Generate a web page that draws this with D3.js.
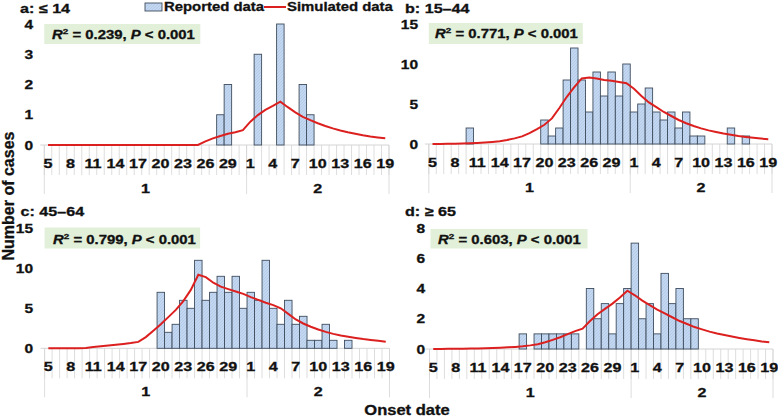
<!DOCTYPE html>
<html>
<head>
<meta charset="utf-8">
<script src="https://cdn.jsdelivr.net/npm/d3@7"></script>
<style>
  html, body { margin: 0; padding: 0; background: #fff; }
  svg { display: block; font-family: "Liberation Sans", Arial, sans-serif; font-weight: bold; }
  svg text { stroke: #111; stroke-width: 0.3px; }
</style>
</head>
<body>
<svg id="chart" width="778" height="417"></svg>
<script>
// ---- Data ----
const janDays = [5,6,7,8,9,10,11,12,13,14,15,16,17,18,19,20,21,22,23,24,25,26,27,28,29,30,31];
const febDays = [1,2,3,4,5,6,7,8,9,10,11,12,13,14,15,16,17,18,19];
const tickDays = ["1-5","1-8","1-11","1-14","1-17","1-20","1-23","1-26","1-29","2-1","2-4","2-7","2-10","2-13","2-16","2-19"];
const monthLabels = ["1", "2"];

const panelTitles = ["a: \u2264 14", "b: 15\u201344", "c: 45\u201364", "d: \u2265 65"];
const r2Values = ["0.239", "0.771", "0.799", "0.603"];
const pTexts = ["< 0.001", "< 0.001", "< 0.001", "< 0.001"];
const yMax = [4, 15, 15, 8];
const yTicks = [[0,1,2,3,4],[0,5,10,15],[0,5,10,15],[0,2,4,6,8]];

// Reported data (Jan 5 ... Feb 19)
const reportedA = [0,0,0,0,0,0,0,0,0,0,0,0,0,0,0,0,0,0,0,0,0,0,0,1,2,0,0,0,3,0,0,4,0,0,2,1,0,0,0,0,0,0,0,0,0,0];
const reportedB = [0,0,0,0,0,2,0,0,0,0,0,0,0,0,0,3,1,2,8,12,8,4,9,6,9,6,10,4,5,7,4,3,4,2,4,1,1,0,0,0,2,0,1,0,0,0];
const reportedC = [0,0,0,0,0,0,0,0,0,0,0,0,0,0,0,7,2,3,6,5,11,6,7,9,7,9,5,7,6,11,5,3,6,3,4,1,1,3,1,0,1,0,0,0,0,0];
const reportedD = [0,0,0,0,0,0,0,0,0,0,0,0,1,0,1,1,1,1,1,1,0,4,2,3,1,3,4,7,2,3,1,5,3,4,2,2,0,0,0,0,0,0,0,0,0,0];

// Simulated data
const simulatedA = [0,0,0,0,0,0,0,0,0,0,0,0,0,0,0,0,0,0,0,0,0,0.12,0.22,0.3,0.37,0.42,0.49,0.77,0.99,1.16,1.29,1.43,1.25,1.08,0.93,0.82,0.72,0.63,0.55,0.48,0.42,0.37,0.32,0.28,0.25,0.22];
const simulatedB = [0,0.01,0.02,0.04,0.06,0.08,0.12,0.18,0.26,0.35,0.5,0.7,0.95,1.35,1.85,2.4,3.2,4.5,5.9,7.1,8.2,8.3,8.2,8.0,7.9,7.75,7.6,6.9,6.0,5.2,4.6,4.0,3.5,3.0,2.6,2.25,1.95,1.7,1.5,1.3,1.15,1.0,0.88,0.77,0.68,0.6];
const simulatedC = [0,0,0,0,0,0.05,0.15,0.25,0.35,0.45,0.55,0.65,0.8,1.4,2.2,3.0,3.9,4.8,5.9,7.3,9.2,8.9,8.2,7.7,7.4,7.1,6.8,6.4,6.05,5.7,5.4,5.0,4.3,3.6,3.1,2.7,2.35,2.05,1.8,1.6,1.45,1.3,1.15,1.05,0.93,0.83];
const simulatedD = [0,0.005,0.01,0.015,0.02,0.03,0.04,0.05,0.07,0.09,0.11,0.14,0.18,0.24,0.32,0.45,0.6,0.78,0.98,1.18,1.35,1.85,2.3,2.65,3.0,3.4,3.85,3.55,3.2,2.9,2.6,2.35,2.1,1.85,1.65,1.45,1.3,1.15,1.02,0.92,0.82,0.73,0.65,0.58,0.5,0.44];

const reportedAll = [reportedA, reportedB, reportedC, reportedD];
const simulatedAll = [simulatedA, simulatedB, simulatedC, simulatedD];

// ---- Layout ----
const categories = janDays.map(d => "1-" + d).concat(febDays.map(d => "2-" + d));
const panels = [
  { left: 44.3, right: 389.0, y0: 145.0, yTop: 24.0, titleX: 20, titleY: 13, tickRight: 33, box: [44.3, 24, 156, 20], textX: 52, textY: 39 },
  { left: 428.8, right: 772.0, y0: 144.0, yTop: 24.0, titleX: 405, titleY: 13, tickRight: 418, box: [428.8, 23, 154, 21], textX: 435, textY: 38 },
  { left: 44.6, right: 389.5, y0: 348.3, yTop: 228.3, titleX: 20.5, titleY: 216, tickRight: 33, box: [44.6, 227.5, 155.5, 21], textX: 53, textY: 243.5 },
  { left: 429.5, right: 773.0, y0: 349.0, yTop: 228.0, titleX: 405, titleY: 216, tickRight: 425, box: [430.5, 229, 157, 19.5], textX: 438, textY: 243.5 }
];

const STRETCH = 1.24;
function stretch(sel, factor) {
  sel.each(function () {
    const len = this.getComputedTextLength();
    d3.select(this).attr("textLength", len * factor).attr("lengthAdjust", "spacingAndGlyphs");
  });
}

const svg = d3.select("#chart");
const defs = svg.append("defs");
const pat = defs.append("pattern").attr("id", "hatch").attr("patternUnits", "userSpaceOnUse")
  .attr("width", 3).attr("height", 3);
pat.append("rect").attr("width", 3).attr("height", 3).attr("fill", "#c3d8f0");
pat.append("path").attr("d", "M0,3 L3,0 M-1,1 L1,-1 M2,4 L4,2").attr("stroke", "#a9c4e6").attr("stroke-width", 0.6);

const barStroke = "#3f4d5e";
const redColor = "#dc1f1f";
const gridColor = "#d4d4d4";
const textColor = "#111";

panels.forEach((p, k) => {
  const g = svg.append("g");
  const x = d3.scaleBand().domain(categories).range([p.left, p.right]).padding(0);
  const y = d3.scaleLinear().domain([0, yMax[k]]).range([p.y0, p.yTop]);
  const bw = x.bandwidth();

  // R2 box
  g.append("rect").attr("x", p.box[0]).attr("y", p.box[1]).attr("width", p.box[2]).attr("height", p.box[3])
    .attr("fill", "#e2efd9");
  const t = g.append("text").attr("x", p.textX).attr("y", p.textY).attr("font-size", 12).attr("fill", textColor);
  t.append("tspan").attr("font-style", "italic").text("R");
  t.append("tspan").attr("font-size", 8).attr("dy", -5).text("2");
  t.append("tspan").attr("dy", 5).text(" = " + r2Values[k] + ", ");
  t.append("tspan").attr("font-style", "italic").text("P");
  t.append("tspan").text(" " + pTexts[k]);
  stretch(t, STRETCH);

  // category boundary ticks
  const bounds = categories.map(c => x(c)).concat([p.right]);
  g.selectAll(".tk").data(bounds).enter().append("line")
    .attr("x1", d => d).attr("x2", d => d)
    .attr("y1", p.y0).attr("y2", p.y0 + 30)
    .attr("stroke", gridColor).attr("stroke-width", 0.8);
  const monthBounds = [p.left, x("2-1"), p.right];
  g.selectAll(".mb").data(monthBounds).enter().append("line")
    .attr("x1", d => d).attr("x2", d => d)
    .attr("y1", p.y0).attr("y2", p.y0 + 49)
    .attr("stroke", gridColor).attr("stroke-width", 0.8);
  // axis line
  g.append("line").attr("x1", p.left - 4).attr("x2", p.right).attr("y1", p.y0).attr("y2", p.y0)
    .attr("stroke", gridColor).attr("stroke-width", 1);

  // bars
  g.selectAll(".bar").data(reportedAll[k].map((v, i) => ({ c: categories[i], v })).filter(d => d.v > 0))
    .enter().append("rect")
    .attr("x", d => x(d.c)).attr("width", bw)
    .attr("y", d => y(d.v)).attr("height", d => p.y0 - y(d.v))
    .attr("fill", "url(#hatch)").attr("stroke", barStroke).attr("stroke-width", 0.9);

  // simulated line
  const line = d3.line().x((d, i) => x(categories[i]) + bw / 2).y(d => y(d));
  g.append("path").datum(simulatedAll[k]).attr("d", line)
    .attr("fill", "none").attr("stroke", redColor).attr("stroke-width", 2);

  // y tick labels
  const ya = d3.axisLeft(y).tickValues(yTicks[k]).tickFormat(d3.format("d")).tickSize(0).tickPadding(0);
  const yg = g.append("g").attr("transform", `translate(${p.tickRight},0)`).call(ya);
  yg.select(".domain").remove();
  yg.selectAll("text").attr("font-size", 12.5).attr("font-family", "Liberation Sans, Arial, sans-serif")
    .attr("font-weight", "bold").attr("fill", textColor);
  stretch(yg.selectAll("text"), STRETCH);

  // x tick labels
  const xl = g.selectAll(".xl").data(tickDays).enter().append("text")
    .attr("x", d => x(d) + bw / 2).attr("y", p.y0 + 22.5)
    .attr("text-anchor", "middle").attr("font-size", 13).attr("fill", textColor)
    .text(d => d.split("-")[1]);
  stretch(xl, STRETCH);

  // month labels
  const ml = g.selectAll(".ml").data(monthLabels).enter().append("text")
    .attr("x", (d, i) => (monthBounds[i] + monthBounds[i + 1]) / 2).attr("y", p.y0 + 48)
    .attr("text-anchor", "middle").attr("font-size", 13).attr("fill", textColor)
    .text(d => d);
  stretch(ml, STRETCH);

  // title
  const tt = g.append("text").attr("x", p.titleX).attr("y", p.titleY).attr("font-size", 13).attr("fill", textColor)
    .text(panelTitles[k]);
  stretch(tt, STRETCH);
});

// Legend
const lg = svg.append("g");
lg.append("rect").attr("x", 145).attr("y", 3).attr("width", 17).attr("height", 8)
  .attr("fill", "url(#hatch)").attr("stroke", barStroke).attr("stroke-width", 0.9);
const l1 = lg.append("text").attr("x", 164).attr("y", 11).attr("font-size", 12).attr("fill", textColor).text("Reported data");
lg.append("line").attr("x1", 264).attr("x2", 286).attr("y1", 7).attr("y2", 7).attr("stroke", redColor).attr("stroke-width", 2);
const l2 = lg.append("text").attr("x", 287).attr("y", 11).attr("font-size", 12).attr("fill", textColor).text("Simulated data");
stretch(l1, STRETCH);
stretch(l2, STRETCH);

// Axis titles
svg.append("text").attr("transform", "translate(13.5,196) rotate(-90)").attr("text-anchor", "middle")
  .attr("font-size", 16).attr("fill", textColor).text("Number of cases");
const xt = svg.append("text").attr("x", 407).attr("y", 415).attr("text-anchor", "middle")
  .attr("font-size", 14).attr("fill", textColor).text("Onset date");
stretch(xt, 1.18);
</script>
</body>
</html>
